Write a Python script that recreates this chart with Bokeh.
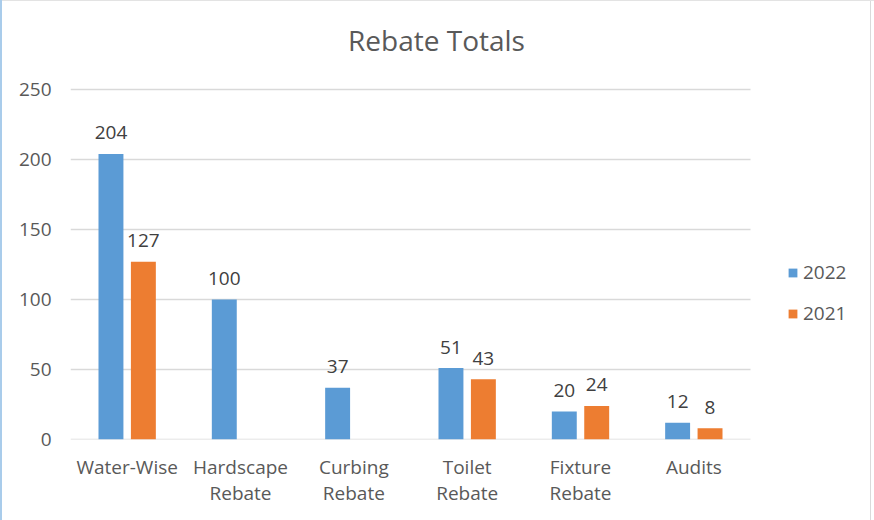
from bokeh.plotting import figure
from bokeh.models import (ColumnDataSource, Range1d, Legend, LegendItem, LinearAxis,
                          FixedTicker, CustomJSTickFormatter, Label)
from bokeh.transform import dodge
from bokeh.embed import file_html
from bokeh.resources import INLINE

title_text = "Rebate Totals"
categories = ["Water-Wise", "Hardscape Rebate", "Curbing Rebate", "Toilet Rebate", "Fixture Rebate", "Audits"]
label_line1 = ["Water-Wise", "Hardscape", "Curbing", "Toilet", "Fixture", "Audits"]
label_line2 = ["", "Rebate", "Rebate", "Rebate", "Rebate", ""]
values_2022 = [204, 100, 37, 51, 20, 12]
values_2021 = [127, None, None, 43, 24, 8]
series_names = ["2022", "2021"]
y_ticks = [0, 50, 100, 150, 200, 250]

BLUE = "#5B9BD5"
ORANGE = "#ED7D31"
TXT = "#595959"
FONT = "Open Sans"

n = len(categories)
xc = [i + 0.5 for i in range(n)]
src22 = ColumnDataSource(dict(x=xc, v=values_2022, lab=[str(v) for v in values_2022]))
x21 = [x for x, v in zip(xc, values_2021) if v is not None]
v21 = [v for v in values_2021 if v is not None]
src21 = ColumnDataSource(dict(x=x21, v=v21, lab=[str(v) for v in v21]))

# frame: categories occupy 680px of an 804px-wide frame (rest holds the legend);
# value axis 0..250 occupies the lower 350px of a 439px-tall frame (rest holds the title)
FRAME_W, CAT_W = 804, 680
FRAME_H, VAL_H = 439, 350
y_max = y_ticks[-1]
px_x = CAT_W / n
px_y = VAL_H / y_max
p = figure(frame_width=FRAME_W, frame_height=FRAME_H,
           x_range=Range1d(0, FRAME_W / px_x), y_range=Range1d(0, FRAME_H / px_y),
           output_backend="svg", toolbar_location=None, x_axis_location=None,
           min_border_left=70, min_border_right=0, min_border_top=0, min_border_bottom=81,
           styles={"box-shadow": "inset 2px 0 0 #A9CCEB, inset 0 1px 0 #E3E3E3, "
                                 "inset -3px 0 0 #FFFFFF, inset -4px 0 0 #DADADA",
                   "background-color": "#FFFFFF"})

p.border_fill_alpha = 0
p.background_fill_alpha = 0
p.outline_line_color = None
p.xgrid.grid_line_color = None
p.ygrid.grid_line_color = None

# title (centred at x=436px)
p.add_layout(Label(x=(436 - 70) / px_x, y=(FRAME_H - 39) / px_y, text=title_text,
                   text_align="center", text_baseline="alphabetic",
                   text_font=FONT, text_font_size="28px", text_color=TXT))

# horizontal gridlines spanning only the category area
p.segment(x0=[0] * len(y_ticks), x1=[n] * len(y_ticks), y0=y_ticks, y1=y_ticks,
          line_color="#D9D9D9", line_width=1.3)

r22 = p.vbar(x=dodge("x", -0.143), top="v", width=0.22, source=src22,
             fill_color=BLUE, line_color=None)
r21 = p.vbar(x=dodge("x", 0.143), top="v", width=0.22, source=src21,
             fill_color=ORANGE, line_color=None)

for src, off in ((src22, -0.143), (src21, 0.143)):
    p.text(x=dodge("x", off), y="v", text="lab", source=src,
           text_align="center", text_baseline="alphabetic", y_offset=-21,
           text_font={"value": FONT}, text_font_size="19px", text_color="#404040")

p.yaxis.ticker = y_ticks
p.yaxis.axis_line_color = None
p.yaxis.major_tick_line_color = None
p.yaxis.minor_tick_line_color = None
p.yaxis.major_tick_out = 0
p.yaxis.major_tick_in = 0
p.yaxis.major_label_standoff = 19
p.yaxis.major_label_text_font = FONT
p.yaxis.major_label_text_font_size = "19px"
p.yaxis.major_label_text_color = TXT

for lines, standoff in ((label_line1, 14), (label_line2, -3)):
    ax = LinearAxis(ticker=FixedTicker(ticks=xc, minor_ticks=[]),
                    formatter=CustomJSTickFormatter(args=dict(labs=lines),
                                                    code="const v = labs[Math.round(tick - 0.5)]; return v ? v : '';"),
                    axis_line_color=None, major_tick_line_color=None,
                    minor_tick_line_color=None, major_tick_out=0, major_tick_in=0,
                    major_label_standoff=standoff,
                    major_label_text_font=FONT, major_label_text_font_size="19px",
                    major_label_text_color=TXT)
    p.add_layout(ax, "below")

legend = Legend(items=[LegendItem(label=series_names[0], renderers=[r22]),
                       LegendItem(label=series_names[1], renderers=[r21])],
                location=(717, 113), orientation="vertical",
                glyph_width=11, glyph_height=11, label_height=26, spacing=15,
                padding=0, margin=0, border_line_color=None, background_fill_alpha=0,
                label_text_font=FONT, label_text_font_size="19px", label_text_color=TXT,
                label_standoff=5)
p.add_layout(legend, "center")

open("out.html", "w").write(file_html(p, INLINE))
